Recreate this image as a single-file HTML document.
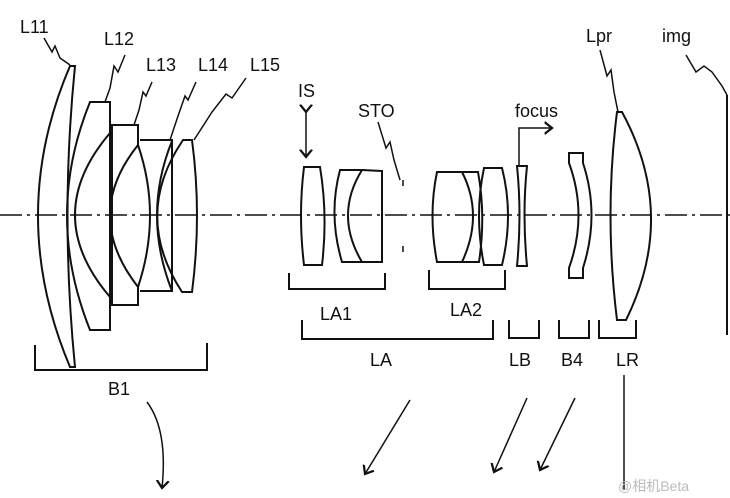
<!DOCTYPE html>
<html><head><meta charset="utf-8"><style>
html,body{margin:0;padding:0;background:#fff;}
svg{display:block;}
text{font-family:"Liberation Sans","Noto Sans CJK SC",sans-serif;font-size:18px;fill:#111;}
</style></head><body>
<svg width="730" height="498" viewBox="0 0 730 498" xmlns="http://www.w3.org/2000/svg">
<defs><marker id="ah" markerWidth="10" markerHeight="10" refX="5" refY="5" orient="auto"><path d="M0,1 L5,5 L0,9" fill="none" stroke="#111" stroke-width="1.5"/></marker></defs>
<g fill="none" stroke="#111" stroke-width="2">
<line x1="0" y1="215" x2="730" y2="215" stroke-width="1.6" stroke-dasharray="22,5,3,5"/>
<!-- B1 group -->
<path d="M70,66 L75,66 Q60,215 75,367 L70,367 Q6,215 70,66 Z"/>
<path d="M90,102 L110,102 L110,330 L90,330 Q44,215 90,102 Z"/>
<path d="M110,133 Q40,215 110,297"/>
<path d="M112,125 L138,125 L138,145 Q162,215 138,287 L138,305 L112,305 Z"/>
<path d="M138,145 Q82,215 138,287"/>
<path d="M140,140 L172,140 L172,291 L140,291"/>
<path d="M172,141 Q142,215 172,291"/>
<path d="M183,140 L192,140 Q202,215 192,292 L182,292 Q132,215 183,140 Z"/>
<!-- leaders -->
<path d="M44,38 L52,52 L55,46 L60,58 L70,65" stroke-width="1.5"/>
<path d="M125,55 L118,72 L114,66 L110,88 L105,102" stroke-width="1.5"/>
<path d="M152,82 L146,96 L143,92 L139,110 L134,125" stroke-width="1.5"/>
<path d="M196,82 L188,100 L185,96 L178,116 L170,140" stroke-width="1.5"/>
<path d="M246,78 L232,98 L226,94 L212,112 L194,140" stroke-width="1.5"/>
<!-- LA1 -->
<path d="M304,167 L320,167 Q328,215 322,265 L304,265 Q298,215 304,167 Z"/>
<path d="M340,170 L362,170 L382,171 L382,262 L362,262 L342,262 Q328,215 340,170 Z"/>
<path d="M362,170 Q334,215 362,262"/>
<!-- IS arrow -->
<line x1="306" y1="112" x2="306" y2="157" stroke-width="1.5" marker-start="url(#ah)" marker-end="url(#ah)"/>
<!-- STO -->
<path d="M378,122 L386,148 L390,142 L394,160 L400,180" stroke-width="1.5"/>
<line x1="403" y1="180" x2="403" y2="186" stroke-width="1.5"/>
<line x1="403" y1="246" x2="403" y2="252" stroke-width="1.5"/>
<!-- LA2 -->
<path d="M437,172 L462,172 Q484,215 462,262 L437,262 Q428,215 437,172 Z"/>
<path d="M462,172 L478,172 Q486,215 479,262 L462,262"/>
<path d="M484,168 L502,168 Q514,215 502,265 L484,265 Q474,215 484,168 Z"/>
<!-- LB -->
<path d="M517,166 L527,166 Q522,215 527,266 L517,266 Q522,215 517,166 Z"/>
<path d="M519,165 L519,128 L552,128" stroke-width="1.5" marker-end="url(#ah)"/>
<!-- B4 -->
<path d="M569,153 L583,153 L583,163 Q600,215 583,268 L583,278 L569,278 L569,268 Q588,215 569,163 Z"/>
<!-- LR -->
<path d="M617,112 L622,112 Q678,215 626,320 L617,320 Q604,215 617,112 Z"/>
<path d="M600,50 L607,76 L611,70 L614,92 L618,112" stroke-width="1.5"/>
<!-- img -->
<line x1="727" y1="95" x2="727" y2="335"/>
<path d="M686,55 L696,72 L704,66 L712,72 L722,86 L727,95" stroke-width="1.5"/>
<!-- brackets -->
<path d="M35,345 L35,370 L207,370 L207,343"/>
<path d="M289,273 L289,289 L385,289 L385,273"/>
<path d="M429,270 L429,289 L505,289 L505,270"/>
<path d="M302,320 L302,339 L493,339 L493,320"/>
<path d="M509,320 L509,338 L539,338 L539,320"/>
<path d="M559,320 L559,338 L589,338 L589,320"/>
<path d="M599,320 L599,338 L636,338 L636,320"/>
<!-- lower arrows -->
<path d="M147,402 Q168,430 162,488" stroke-width="1.5" marker-end="url(#ah)"/>
<line x1="410" y1="400" x2="365" y2="474" stroke-width="1.5" marker-end="url(#ah)"/>
<line x1="527" y1="398" x2="494" y2="472" stroke-width="1.5" marker-end="url(#ah)"/>
<line x1="575" y1="398" x2="540" y2="470" stroke-width="1.5" marker-end="url(#ah)"/>
<line x1="624" y1="375" x2="624" y2="490" stroke-width="1.5"/>
</g>
<text x="20" y="33">L11</text>
<text x="104" y="45">L12</text>
<text x="146" y="71">L13</text>
<text x="198" y="71">L14</text>
<text x="250" y="71">L15</text>
<text x="298" y="97">IS</text>
<text x="358" y="117">STO</text>
<text x="515" y="117">focus</text>
<text x="586" y="42">Lpr</text>
<text x="662" y="42">img</text>
<text x="320" y="320">LA1</text>
<text x="450" y="316">LA2</text>
<text x="370" y="366">LA</text>
<text x="509" y="366">LB</text>
<text x="561" y="366">B4</text>
<text x="616" y="366">LR</text>
<text x="108" y="395">B1</text>
<text x="618" y="491" style="font-size:14px;fill:#bbb">@相机Beta</text>
</svg>
</body></html>
